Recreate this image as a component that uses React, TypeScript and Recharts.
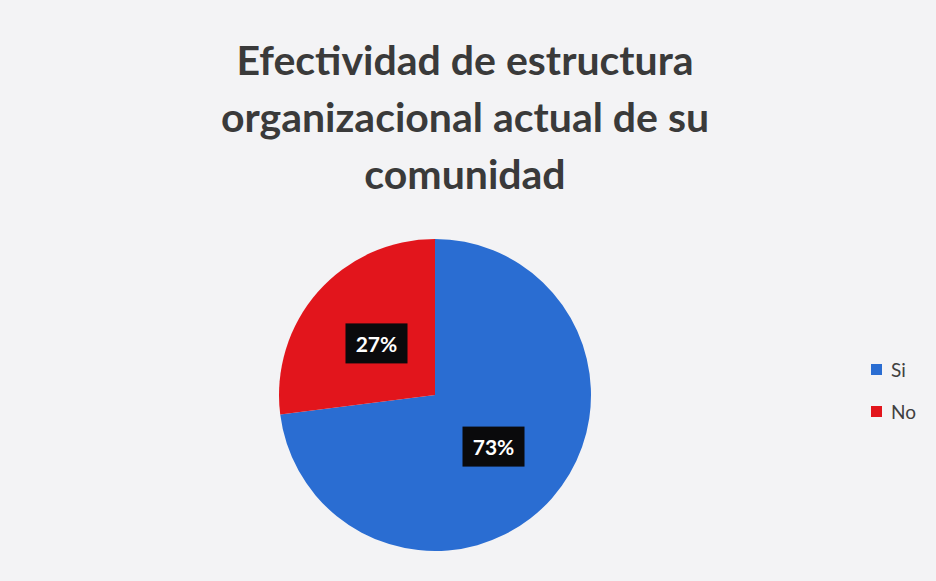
import { PieChart, Pie, Cell } from "recharts";

const categories = ["Si", "No"];
const percentages = [73, 27];
const colors = ["#2a6dd2", "#e2151c"];

const titleLines = [
  "Efectividad de estructura",
  "organizacional actual de su",
  "comunidad",
];

const data = categories.map((name, i) => ({ name, value: percentages[i] }));

const RADIAN = Math.PI / 180;

function renderLabel(props: any) {
  const { cx, cy, midAngle, outerRadius, value } = props;
  const r = outerRadius * 0.5;
  const x = cx + r * Math.cos(-midAngle * RADIAN);
  const y = cy + r * Math.sin(-midAngle * RADIAN);
  return (
    <g>
      <rect x={x - 31} y={y - 20} width={62} height={40} fill="#0a0a0c" />
      <text
        x={x}
        y={y}
        fill="#ffffff"
        textAnchor="middle"
        dominantBaseline="central"
        style={{ fontFamily: "Lato", fontWeight: "bold", fontSize: 21 }}
      >
        {value}%
      </text>
    </g>
  );
}

export default function App() {
  return (
    <div
      style={{
        position: "absolute",
        left: 0,
        top: 0,
        width: 936,
        height: 581,
        background: "#f3f3f5",
        fontFamily: "Lato",
        overflow: "hidden",
      }}
    >
      <div
        style={{
          position: "absolute",
          top: 31,
          left: 0,
          width: 930,
          textAlign: "center",
          fontWeight: "bold",
          fontSize: 41,
          lineHeight: "57px",
          color: "#3a3a3a",
        }}
      >
        {titleLines.map((line) => (
          <div key={line}>{line}</div>
        ))}
      </div>

      <PieChart width={936} height={581} style={{ position: "absolute", left: 0, top: 0 }}>
        <Pie
          data={data}
          dataKey="value"
          nameKey="name"
          cx={430}
          cy={390}
          outerRadius={156}
          startAngle={90}
          endAngle={-270}
          stroke="none"
          label={renderLabel}
          labelLine={false}
          isAnimationActive={false}
        >
          {data.map((d, i) => (
            <Cell key={d.name} fill={colors[i]} />
          ))}
        </Pie>
      </PieChart>

      <div style={{ position: "absolute", left: 871, top: 348 }}>
        {categories.map((c, i) => (
          <div
            key={c}
            style={{
              display: "flex",
              alignItems: "center",
              height: 42,
              fontSize: 19,
              color: "#404040",
            }}
          >
            <span
              style={{
                width: 11,
                height: 11,
                background: colors[i],
                marginRight: 9,
                display: "inline-block",
              }}
            />
            {c}
          </div>
        ))}
      </div>
    </div>
  );
}
